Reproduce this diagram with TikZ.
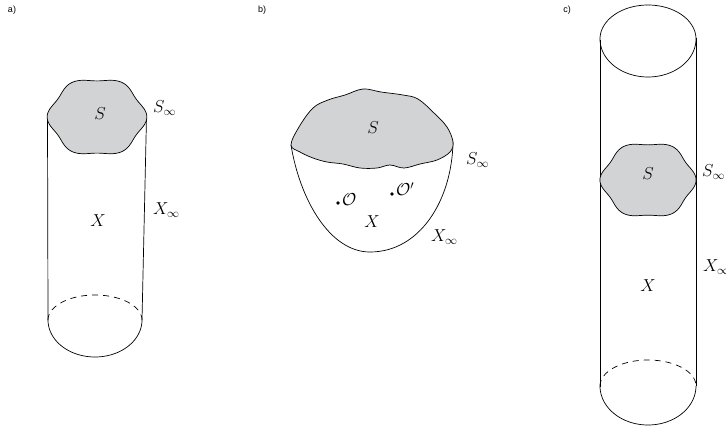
\documentclass[tikz,border=0pt]{standalone}
\usepackage{fontspec}
\newfontfamily\labelfont{Liberation Sans}
\usepackage{amsmath}
\definecolor{blobgray}{RGB}{210,211,213}
\begin{document}
\begin{tikzpicture}[x=1pt,y=-1pt,
  edge/.style={line width=0.7pt,black},
  blob/.style={line width=0.7pt,draw=black,fill=blobgray},
  mlabel/.style={inner sep=0pt,font=\fontsize{17}{20}\selectfont},
  plabel/.style={inner sep=0pt,font=\labelfont\fontsize{9}{11}\selectfont}]
\useasboundingbox (0,0) rectangle (726,429);

% ---------- panel a ----------
\node[plabel] (pa) at (12,10) {a)};
\coordinate (aTL) at (47.5,117);
\coordinate (aTR) at (146.5,117);
\coordinate (aBL) at (48,320);
\coordinate (aBR) at (142,320);
\draw[edge] (aTL) -- (aBL);
\draw[edge] (aTR) -- (aBR);
\draw[edge,dashed,dash pattern=on 6pt off 5pt] plot[domain=180:0,samples=60] ({95+47*cos(\x)},{320-25*sin(\x)});
\draw[edge] plot[domain=180:360,samples=60] ({95+47*cos(\x)},{320-37*sin(\x)});
\draw[blob] plot[domain=0:360,samples=181] ({97+47.5*(1+0.05*cos(6*\x))*cos(\x)},{117+38*(1+0.05*cos(6*\x))*sin(\x)}) -- cycle;
\node[mlabel] (aS) at (100,114) {$S$};
\node[mlabel,anchor=west] (aSi) at (153,108) {$S_\infty$};
\node[mlabel,anchor=west] (aXi) at (153,210) {$X_\infty$};
\node[mlabel] (aX) at (98,221) {$X$};

% ---------- panel b ----------
\node[plabel] (pb) at (262,10) {b)};
\coordinate (bL) at (291,145);
\coordinate (bB) at (370,252);
\coordinate (bR) at (453,142);
\draw[edge] (bL) .. controls (300,200) and (330,252) .. (bB)
  .. controls (420,252) and (452,200) .. (bR);
\draw[blob] plot[smooth cycle,tension=0.6] coordinates {
  (291,145) (299,127) (313,108) (328,100) (345,95) (363,89) (381,92)
  (403,95) (418,99) (434,113) (447,127) (453,142) (450,152) (437,160)
  (420,164) (404,168) (390,165) (377,168) (360,168) (343,164) (327,162)
  (313,158) (300,152)};
\node[mlabel] (bS) at (373,128) {$S$};
\node[mlabel,anchor=west] (bSi) at (466,160) {$S_\infty$};
\fill (338,203) circle (1.8pt) coordinate (dO);
\fill (392,194) circle (1.8pt) coordinate (dOp);
\node[mlabel,anchor=west] (bO) at (342,200) {$\mathcal{O}$};
\node[mlabel,anchor=west] (bOp) at (396,189) {$\mathcal{O}'$};
\node[mlabel] (bX) at (372,222) {$X$};
\node[mlabel,anchor=west] (bXi) at (431,237) {$X_\infty$};

% ---------- panel c ----------
\node[plabel] (pc) at (567,10) {c)};
\coordinate (cTL) at (600,40);
\coordinate (cTR) at (696,38);
\coordinate (cBL) at (600,387);
\coordinate (cBR) at (696,386);
\draw[edge] (cTL) -- (cBL);
\draw[edge] (cTR) -- (cBR);
\draw[edge] plot[domain=180:0,samples=60] ({648+48*cos(\x)},{39-34*sin(\x)});
\draw[edge] plot[domain=180:360,samples=60] ({648+48*cos(\x)},{39-38*sin(\x)});
\draw[edge,dashed,dash pattern=on 6pt off 5pt] plot[domain=180:0,samples=60] ({648+48*cos(\x)},{386-26*sin(\x)});
\draw[edge] plot[domain=180:360,samples=60] ({648+48*cos(\x)},{386-39*sin(\x)});
\draw[blob] plot[domain=0:360,samples=181] ({648+45.8*(1+0.05*cos(6*\x))*cos(\x)},{180+37*(1+0.05*cos(6*\x))*sin(\x)}) -- cycle;
\node[mlabel] (cS) at (648,174) {$S$};
\node[mlabel,anchor=west] (cSi) at (702,172) {$S_\infty$};
\node[mlabel,anchor=west] (cXi) at (703,267) {$X_\infty$};
\node[mlabel] (cX) at (648,286) {$X$};
\end{tikzpicture}
\end{document}
